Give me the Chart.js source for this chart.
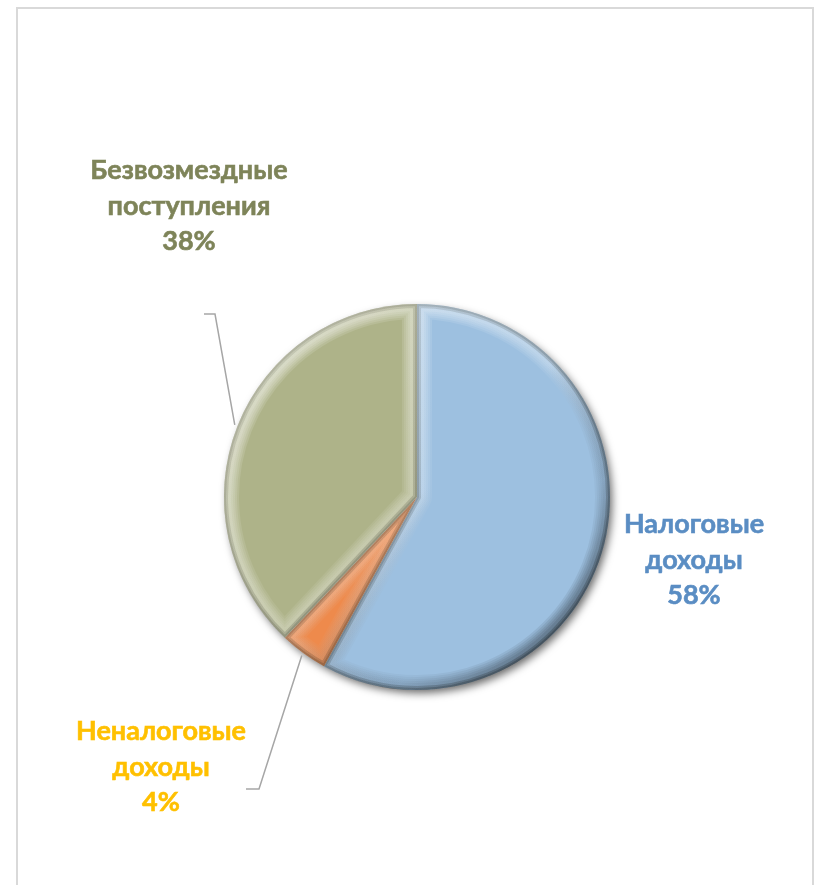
<!DOCTYPE html>
<html>
<head>
<meta charset="utf-8">
<script src="https://cdn.jsdelivr.net/npm/chart.js@4/dist/chart.umd.min.js"></script>
<style>
  html, body { margin: 0; padding: 0; background: #ffffff; }
  #wrap { width: 816px; height: 885px; position: relative; }
</style>
</head>
<body>
<div id="wrap"><canvas id="c" width="816" height="885"></canvas></div>
<script>
// ---- data ----
const categories = ['Налоговые доходы', 'Неналоговые доходы', 'Безвозмездные поступления'];
const labelLines = [['Налоговые', 'доходы'], ['Неналоговые', 'доходы'], ['Безвозмездные', 'поступления']];
const shares = [58, 4, 38];

// ---- styles ----
const sliceColors = ['#9DC0E0', '#EE8A4C', '#AEB389'];
const labelColors = ['#5A8DC3', '#FFC000', '#7E8459'];
// label anchor (centre x, first baseline) relative to pie centre, px
const labelOffsets = [[277, 36], [-256, 243], [-228, -318]];
// leader elbow and end relative to pie centre (null = no leader)
const leaderPts = [null, [[-158, 292], [-171, 292]], [[-202, -183], [-213, -183]]];

function arcPath(ctx, a) {
  ctx.beginPath();
  ctx.moveTo(a.x, a.y);
  ctx.arc(a.x, a.y, a.outerRadius, a.startAngle, a.endAngle);
  ctx.closePath();
}

const decor = {
  id: 'decor',
  beforeDraw(chart) {
    const ctx = chart.ctx;
    ctx.save();
    ctx.strokeStyle = '#d9d9d9';
    ctx.lineWidth = 2;
    ctx.beginPath();
    ctx.moveTo(17, 900);
    ctx.lineTo(17, 8);
    ctx.lineTo(813, 8);
    ctx.lineTo(813, 900);
    ctx.stroke();
    ctx.restore();
  },
  beforeDatasetsDraw(chart) {
    const ctx = chart.ctx;
    const a = chart.getDatasetMeta(0).data[0];
    ctx.save();
    ctx.shadowColor = 'rgba(0,0,0,0.6)';
    ctx.shadowBlur = 8;
    ctx.shadowOffsetX = 3;
    ctx.shadowOffsetY = 4;
    ctx.fillStyle = '#ffffff';
    ctx.beginPath();
    ctx.arc(a.x, a.y, a.outerRadius - 1, 0, Math.PI * 2);
    ctx.fill();
    ctx.restore();
  },
  afterDatasetsDraw(chart) {
    const ctx = chart.ctx;
    const arcs = chart.getDatasetMeta(0).data;
    arcs.forEach((a) => {
      const r = a.outerRadius;
      ctx.save();
      arcPath(ctx, a);
      ctx.clip();
      ctx.lineJoin = 'round';
      // soft highlight band (top-left lit, bottom-right shaded)
      const widths = [30, 26, 22, 18, 14];
      widths.forEach((w) => {
        const g = ctx.createLinearGradient(a.x - r, a.y - r, a.x + r, a.y + r);
        g.addColorStop(0, 'rgba(255,255,255,0.16)');
        g.addColorStop(0.5, 'rgba(255,255,255,0.07)');
        g.addColorStop(0.72, 'rgba(0,0,0,0.03)');
        g.addColorStop(1, 'rgba(0,0,0,0.14)');
        arcPath(ctx, a);
        ctx.strokeStyle = g;
        ctx.lineWidth = w;
        ctx.stroke();
      });
      // darker outer rim
      [8, 4].forEach((w) => {
        const g2 = ctx.createLinearGradient(a.x - r, a.y - r, a.x + r, a.y + r);
        g2.addColorStop(0, 'rgba(60,60,40,0.10)');
        g2.addColorStop(1, 'rgba(0,0,0,0.22)');
        arcPath(ctx, a);
        ctx.strokeStyle = g2;
        ctx.lineWidth = w;
        ctx.stroke();
      });
      ctx.restore();
    });
  },
  afterDraw(chart) {
    const ctx = chart.ctx;
    const arcs = chart.getDatasetMeta(0).data;
    ctx.save();
    arcs.forEach((a, i) => {
      const cx = a.x, cy = a.y;
      const mid = (a.startAngle + a.endAngle) / 2;
      if (leaderPts[i]) {
        ctx.strokeStyle = '#a6a6a6';
        ctx.lineWidth = 1.5;
        ctx.beginPath();
        ctx.moveTo(cx + Math.cos(mid) * (a.outerRadius + 3), cy + Math.sin(mid) * (a.outerRadius + 3));
        leaderPts[i].forEach(p => ctx.lineTo(cx + p[0], cy + p[1]));
        ctx.stroke();
      }
      const lines = labelLines[i].concat([shares[i] + '%']);
      ctx.fillStyle = labelColors[i];
      ctx.strokeStyle = labelColors[i];
      ctx.lineWidth = 0.6;
      ctx.font = 'bold 27px Lato, "Open Sans", sans-serif';
      ctx.textAlign = 'center';
      ctx.textBaseline = 'alphabetic';
      lines.forEach((t, k) => {
        const tx = cx + labelOffsets[i][0], ty = cy + labelOffsets[i][1] + k * 35.5;
        ctx.fillText(t, tx, ty);
        ctx.strokeText(t, tx, ty);
      });
    });
    ctx.restore();
  }
};

new Chart(document.getElementById('c'), {
  type: 'pie',
  data: {
    labels: categories,
    datasets: [{
      data: shares,
      backgroundColor: sliceColors,
      borderWidth: 0
    }]
  },
  options: {
    responsive: false,
    animation: false,
    layout: { padding: { left: 224, right: 206, top: 304, bottom: 195 } },
    plugins: {
      legend: { display: false },
      tooltip: { enabled: false }
    }
  },
  plugins: [decor]
});
</script>
</body>
</html>
